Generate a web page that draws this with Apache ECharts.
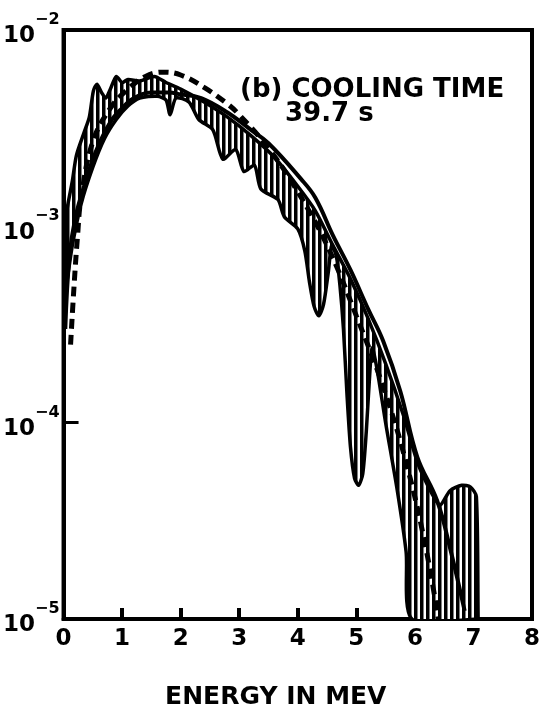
<!DOCTYPE html>
<html>
<head>
<meta charset="utf-8">
<script src="https://cdn.jsdelivr.net/npm/echarts@6/dist/echarts.min.js"></script>
<style>
html,body{margin:0;padding:0;background:#fff;}
#chart{width:547px;height:715px;}
</style>
</head>
<body>
<div id="chart"></div>
<script>
// ---- data ----
const xTicks = [0, 1, 2, 3, 4, 5, 6, 7, 8];
const yTickExponents = [-2, -3, -4, -5];

const theoryX = [0.03, 0.1, 0.2, 0.35, 0.55, 0.8, 1.0, 1.2, 1.5, 1.8, 2.0, 2.35, 2.8, 3.2, 3.5, 4.05, 4.3, 4.6, 4.9, 5.2, 5.46, 5.75, 6.04, 6.38, 6.6, 6.85];
const theoryY = [3.0e-4, 7.0e-4, 1.1e-3, 1.6e-3, 2.4e-3, 3.4e-3, 4.0e-3, 4.5e-3, 4.8e-3, 4.8e-3, 4.7e-3, 4.5e-3, 3.8e-3, 3.1e-3, 2.65e-3, 1.75e-3, 1.4e-3, 9.0e-4, 6.0e-4, 3.8e-4, 2.6e-4, 1.45e-4, 6.7e-5, 4.0e-5, 2.3e-5, 1.1e-5];

const dashX = [0.12, 0.18, 0.24, 0.3, 0.5, 0.8, 1.1, 1.4, 1.7, 2.0, 2.4, 2.8, 3.0, 3.5, 4.0, 4.5, 5.0, 5.5, 5.9, 6.2, 6.4];
const dashY = [2.5e-4, 5.0e-4, 9.0e-4, 1.4e-3, 2.7e-3, 4.0e-3, 5.0e-3, 5.8e-3, 6.1e-3, 5.9e-3, 5.1e-3, 4.2e-3, 3.7e-3, 2.5e-3, 1.5e-3, 8.0e-4, 3.5e-4, 1.4e-4, 5.5e-5, 2.2e-5, 1.0e-5];

const bandUpperX = [0.04, 0.15, 0.22, 0.35, 0.44, 0.51, 0.57, 0.65, 0.72, 0.8, 0.9, 1.0, 1.1, 1.3, 1.55, 1.75, 2.0, 2.4, 2.8, 3.2, 3.6, 4.0, 4.3, 4.6, 4.9, 5.2, 5.5, 5.8, 6.05, 6.3, 6.43, 6.6, 6.8, 6.95, 7.05, 7.08];
const bandUpperY = [1.1e-3, 1.7e-3, 2.3e-3, 3.0e-3, 3.6e-3, 4.9e-3, 5.3e-3, 4.8e-3, 4.5e-3, 5.0e-3, 5.8e-3, 5.4e-3, 5.6e-3, 5.5e-3, 5.8e-3, 5.4e-3, 5.0e-3, 4.3e-3, 3.6e-3, 2.9e-3, 2.25e-3, 1.6e-3, 1.2e-3, 8.0e-4, 5.4e-4, 3.4e-4, 2.0e-4, 1.1e-4, 6.2e-5, 4.3e-5, 3.8e-5, 4.5e-5, 4.8e-5, 4.7e-5, 4.2e-5, 1.0e-5];

const bandLowerX = [0.04, 0.15, 0.3, 0.5, 0.7, 0.9, 1.1, 1.3, 1.6, 1.75, 1.82, 1.92, 2.14, 2.31, 2.55, 2.72, 2.94, 3.08, 3.26, 3.37, 3.66, 3.77, 4.0, 4.12, 4.2, 4.28, 4.36, 4.44, 4.52, 4.58, 4.66, 4.72, 4.78, 4.84, 4.9, 4.97, 5.04, 5.11, 5.17, 5.22, 5.27, 5.35, 5.5, 5.7, 5.85, 5.95, 7.08];
const bandLowerY = [5.0e-4, 8.0e-4, 1.3e-3, 2.0e-3, 2.8e-3, 3.5e-3, 4.1e-3, 4.5e-3, 4.6e-3, 4.4e-3, 3.7e-3, 4.5e-3, 4.3e-3, 3.5e-3, 3.1e-3, 2.2e-3, 2.46e-3, 1.9e-3, 2.05e-3, 1.55e-3, 1.37e-3, 1.12e-3, 9.7e-4, 7.5e-4, 5.2e-4, 3.9e-4, 3.5e-4, 4.0e-4, 5.8e-4, 8.0e-4, 7.0e-4, 5.0e-4, 3.0e-4, 1.4e-4, 7.5e-5, 5.2e-5, 4.8e-5, 5.5e-5, 9.0e-5, 1.6e-4, 2.4e-4, 1.9e-4, 1.0e-4, 4.5e-5, 2.2e-5, 1.0e-5, 1.0e-5];

const annotationLine1 = '(b) COOLING TIME';
const annotationLine2 = '39.7 s';
const xAxisTitle = 'ENERGY IN MEV';

// ---- build ----
const zip = (xs, ys) => xs.map((x, i) => [x, ys[i]]);

const hatch = document.createElement('canvas');
hatch.width = 6; hatch.height = 6;
const hctx = hatch.getContext('2d');
hctx.fillStyle = '#fff'; hctx.fillRect(0, 0, 6, 6);
hctx.fillStyle = '#000'; hctx.fillRect(0, 0, 3.5, 6);

const FONT = '"DejaVu Sans", "Liberation Sans", sans-serif';

const chart = echarts.init(document.getElementById('chart'), null, {renderer: 'canvas'});
chart.setOption({
  animation: false,
  backgroundColor: '#fff',
  grid: {left: 62, right: 15, top: 30, bottom: 93, show: true, borderColor: '#000', borderWidth: 4, backgroundColor: 'transparent'},
  xAxis: {
    type: 'value', min: 0, max: 8, interval: 1,
    axisLine: {show: true, lineStyle: {color: '#000', width: 4}},
    axisTick: {show: true, inside: true, length: 11, lineStyle: {color: '#000', width: 4}},
    splitLine: {show: false},
    axisLabel: {color: '#000', fontFamily: FONT, fontWeight: 'bold', fontSize: 23, margin: 9,
      formatter: v => xTicks.includes(v) ? String(v) : ''},
    name: xAxisTitle, nameLocation: 'middle', nameGap: 66,
    nameTextStyle: {color: '#000', fontFamily: FONT, fontWeight: 'bold', fontSize: 25, padding: [0, 44, 0, 0]}
  },
  yAxis: {
    type: 'log', logBase: 10, min: 1e-5, max: 1e-2,
    axisLine: {show: true, lineStyle: {color: '#000', width: 4}},
    axisTick: {show: true, inside: true, length: 15, lineStyle: {color: '#000', width: 3}},
    minorTick: {show: false},
    splitLine: {show: false},
    axisLabel: {
      margin: 4,
      formatter: v => {
        const e = Math.round(Math.log10(v));
        if (!yTickExponents.includes(e)) return '';
        return '{b|10}{s|\u2212' + Math.abs(e) + '}';
      },
      rich: {
        b: {color: '#000', fontFamily: FONT, fontWeight: 'bold', fontSize: 23, lineHeight: 36, verticalAlign: 'bottom'},
        s: {color: '#000', fontFamily: FONT, fontWeight: 'bold', fontSize: 16, lineHeight: 36, verticalAlign: 'top'}
      }
    }
  },
  series: [
    {
      type: 'custom', name: 'band', data: [[0, 0]], z: 2, clip: true,
      renderItem: (params, api) => {
        if (params.dataIndex !== 0) return null;
        const up = bandUpperX.map((x, i) => api.coord([x, bandUpperY[i]]));
        const lo = bandLowerX.map((x, i) => api.coord([x, bandLowerY[i]])).reverse();
        return {
          type: 'polygon',
          shape: {points: up.concat(lo), smooth: 0.25},
          style: {fill: {image: hatch, repeat: 'repeat'}, stroke: '#000', lineWidth: 3.5, lineJoin: 'round'}
        };
      }
    },
    {
      type: 'line', name: 'theory', data: zip(theoryX, theoryY), smooth: 0.4, showSymbol: false, z: 3,
      lineStyle: {color: '#000', width: 4}
    },
    {
      type: 'line', name: 'dashed', data: zip(dashX, dashY), smooth: 0.4, showSymbol: false, z: 4,
      lineStyle: {color: '#000', width: 5, type: [10, 6]}
    }
  ],
  graphic: [
    {type: 'text', left: 240, top: 77, style: {text: annotationLine1, fill: '#000', font: 'bold 26px ' + FONT}},
    {type: 'text', left: 285, top: 101, style: {text: annotationLine2, fill: '#000', font: 'bold 26px ' + FONT}}
  ]
});
</script>
</body>
</html>
